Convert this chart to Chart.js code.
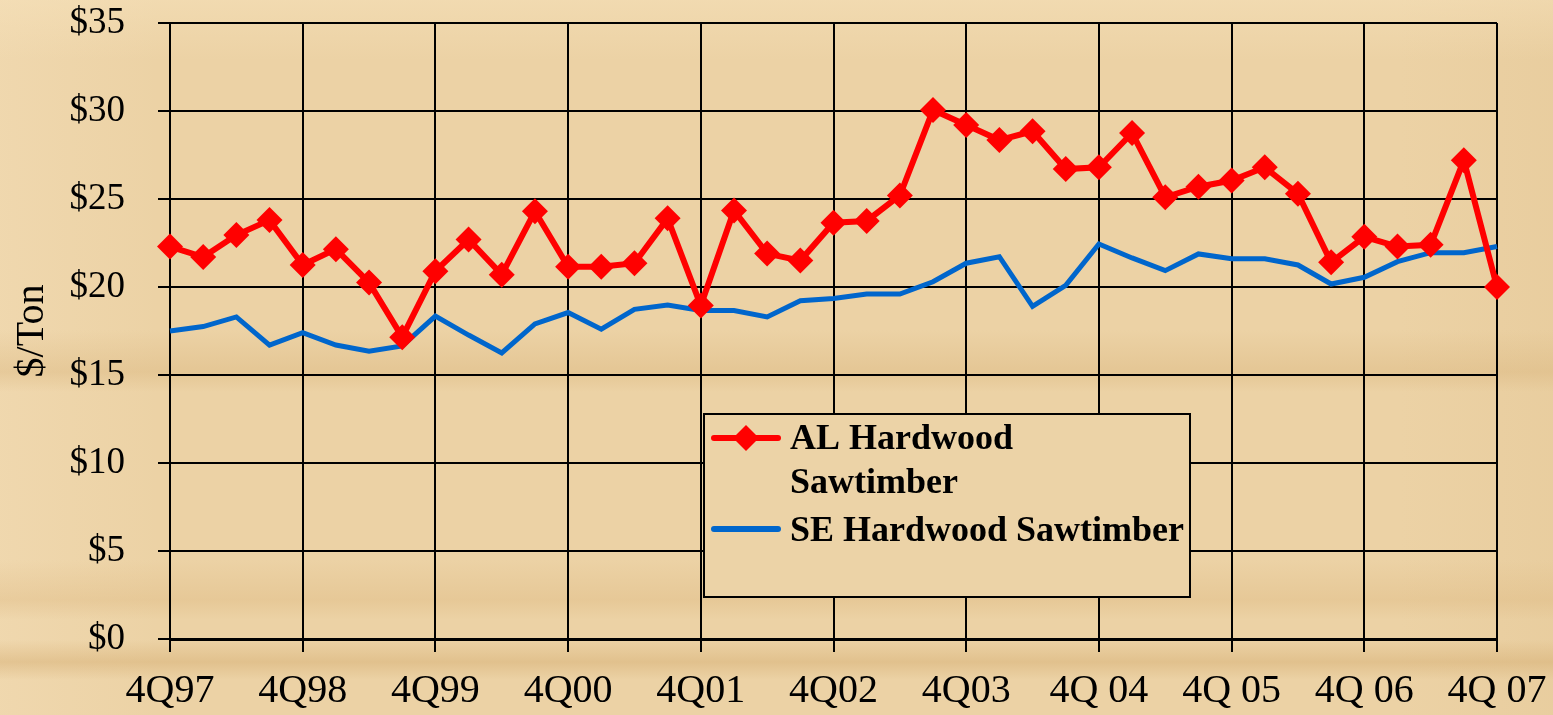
<!DOCTYPE html>
<html>
<head>
<meta charset="utf-8">
<script src="https://cdn.jsdelivr.net/npm/chart.js@4"></script>
<style>
html,body{margin:0;padding:0;}
body{
  width:1553px;height:715px;overflow:hidden;
  background-color:#ecd2a5;
  background-image:
    linear-gradient(180deg,
      rgba(248,228,190,0.45) 0px, rgba(248,228,190,0) 60px,
      rgba(0,0,0,0) 330px, rgba(214,176,118,0.35) 372px, rgba(214,176,118,0.0) 392px,
      rgba(0,0,0,0) 560px, rgba(220,182,125,0.35) 600px, rgba(0,0,0,0) 620px,
      rgba(0,0,0,0) 640px, rgba(212,172,112,0.45) 662px, rgba(0,0,0,0) 680px),
    linear-gradient(90deg, rgba(250,232,200,0.25) 0px, rgba(0,0,0,0) 160px, rgba(0,0,0,0) 1400px, rgba(225,195,145,0.3) 1553px);
}
#wrap{position:relative;width:1553px;height:715px;}
canvas{display:block;}
</style>
</head>
<body>
<div id="wrap"><canvas id="c" width="1553" height="715"></canvas></div>
<script>
const categories = [
  "4Q97","1Q98","2Q98","3Q98","4Q98","1Q99","2Q99","3Q99","4Q99",
  "1Q00","2Q00","3Q00","4Q00","1Q01","2Q01","3Q01","4Q01",
  "1Q02","2Q02","3Q02","4Q02","1Q03","2Q03","3Q03","4Q03",
  "1Q04","2Q04","3Q04","4Q04","1Q05","2Q05","3Q05","4Q05",
  "1Q06","2Q06","3Q06","4Q06","1Q07","2Q07","3Q07","4Q07"
];
const tickLabels = ["4Q97","4Q98","4Q99","4Q00","4Q01","4Q02","4Q03","4Q 04","4Q 05","4Q 06","4Q 07"];
const alHardwood = [
  22.3, 21.7, 22.95, 23.8, 21.25, 22.15, 20.25, 17.15, 20.9,
  22.7, 20.7, 24.3, 21.15, 21.15, 21.35, 23.9, 18.95,
  24.35, 21.9, 21.5, 23.65, 23.75, 25.2, 30.05, 29.2,
  28.35, 28.85, 26.7, 26.8, 28.75, 25.1, 25.7, 26.05,
  26.8, 25.3, 21.4, 22.85, 22.3, 22.4, 27.2, 20.0
];
const seHardwood = [
  17.5, 17.75, 18.3, 16.7, 17.4, 16.7, 16.35, 16.65, 18.35,
  17.27, 16.25, 17.9, 18.55, 17.6, 18.73, 18.98, 18.66,
  18.66, 18.3, 19.22, 19.35, 19.6, 19.6, 20.3, 21.35,
  21.72, 18.9, 20.1, 22.44, 21.65, 20.93, 21.88, 21.6,
  21.6, 21.25, 20.17, 20.55, 21.44, 21.95, 21.95, 22.3
];
const yTicks = [0, 5, 10, 15, 20, 25, 30, 35];
const seriesNames = [["AL Hardwood", "Sawtimber"], ["SE Hardwood Sawtimber"]];

const RED = "#ff0000";
const BLUE = "#0066cc";
const SERIF = "'Liberation Serif', 'DejaVu Serif', serif";

const legendPlugin = {
  id: "boxLegend",
  afterDraw(chart) {
    const ctx = chart.ctx;
    const bx = 704, by = 414, bw = 486, bh = 183;
    ctx.save();
    ctx.fillStyle = "#ecd3a7";
    ctx.fillRect(bx, by, bw, bh);
    ctx.lineWidth = 2;
    ctx.strokeStyle = "#000";
    ctx.strokeRect(bx, by, bw, bh);
    ctx.lineCap = "round";
    ctx.strokeStyle = RED;
    ctx.lineWidth = 6;
    ctx.beginPath(); ctx.moveTo(714, 438); ctx.lineTo(778, 438); ctx.stroke();
    ctx.fillStyle = RED;
    ctx.beginPath();
    ctx.moveTo(746, 425); ctx.lineTo(759, 438); ctx.lineTo(746, 451); ctx.lineTo(733, 438);
    ctx.closePath(); ctx.fill();
    ctx.strokeStyle = BLUE;
    ctx.lineWidth = 6;
    ctx.beginPath(); ctx.moveTo(714, 529); ctx.lineTo(778, 529); ctx.stroke();
    ctx.fillStyle = "#000";
    ctx.font = "bold 36px " + SERIF;
    ctx.textBaseline = "middle";
    ctx.textAlign = "left";
    ctx.fillText(seriesNames[0][0], 790, 440);
    ctx.fillText(seriesNames[0][1], 790, 484);
    ctx.fillText(seriesNames[1][0], 790, 532);
    ctx.restore();
  }
};

new Chart(document.getElementById("c"), {
  type: "line",
  data: {
    labels: categories,
    datasets: [
      {
        label: seriesNames[0].join(" "),
        data: alHardwood,
        borderColor: RED,
        backgroundColor: RED,
        borderWidth: 6,
        pointStyle: "rectRot",
        pointRadius: 13,
        pointBorderWidth: 0,
        pointBackgroundColor: RED,
        tension: 0
      },
      {
        label: seriesNames[1][0],
        data: seHardwood,
        borderColor: BLUE,
        backgroundColor: BLUE,
        borderWidth: 5,
        pointRadius: 0,
        tension: 0
      }
    ]
  },
  options: {
    responsive: false,
    animation: false,
    devicePixelRatio: 1,
    layout: { padding: { left: 8, right: 56, top: 23, bottom: 0 } },
    plugins: { legend: { display: false }, tooltip: { enabled: false } },
    scales: {
      x: {
        type: "category",
        offset: false,
        grid: { color: "#000", lineWidth: 2, tickLength: 13, offset: false },
        border: { color: "#000", width: 3 },
        ticks: {
          autoSkip: false,
          maxRotation: 0,
          minRotation: 0,
          padding: 15,
          color: "#000",
          font: { family: SERIF, size: 40 },
          callback: (v, i) => (i % 4 === 0 ? tickLabels[i / 4] : null)
        },
        afterFit: (s) => { s.height = 76; s.paddingLeft = 0; s.paddingRight = 0; }
      },
      y: {
        min: 0,
        max: 35,
        grid: { color: "#000", lineWidth: 2, tickLength: 12 },
        border: { color: "#000", width: 2 },
        afterBuildTicks: (s) => { s.ticks = yTicks.map(v => ({ value: v })); },
        ticks: {
          padding: 33,
          color: "#000",
          font: { family: SERIF, size: 37 },
          callback: (v) => "$" + v
        },
        title: {
          display: true,
          text: "$/Ton",
          color: "#000",
          font: { family: SERIF, size: 40 },
          padding: { top: 0, bottom: 0 }
        },
        afterFit: (s) => { s.width = 162; s.paddingTop = 0; s.paddingBottom = 0; }
      }
    }
  },
  plugins: [legendPlugin]
});
</script>
</body>
</html>
